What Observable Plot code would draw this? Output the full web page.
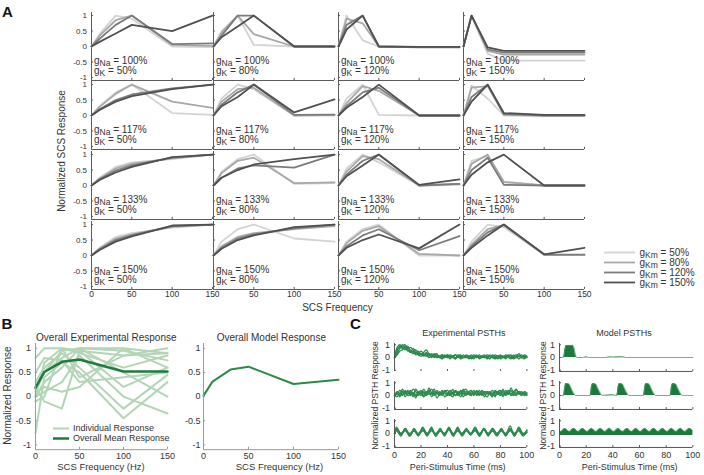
<!DOCTYPE html>
<html><head><meta charset="utf-8">
<script src="https://cdn.jsdelivr.net/npm/d3@7"></script>
<script src="https://cdn.jsdelivr.net/npm/@observablehq/plot@0.6"></script>
<style>
body{margin:0;background:#fff;}
#fig{position:relative;width:704px;height:475px;overflow:hidden;background:#fff;font-family:Arial,"Liberation Sans",Helvetica,sans-serif;color:#333;}
#fig svg{position:absolute;overflow:visible;background:transparent;}
.lbl{position:absolute;font-weight:bold;font-size:15px;line-height:15px;color:#111;}
</style></head>
<body><div id="fig">
<div class="lbl" style="left:2px;top:4px">A</div>
<div class="lbl" style="left:1.5px;top:315.5px">B</div>
<div class="lbl" style="left:350px;top:315.5px">C</div>
</div>
<script>
// ---------------- DATA ----------------
// Panel A: SCS frequencies and normalized responses (4 gKm levels per cell)
const freqA = [0, 10, 30, 50, 100, 150];
const gkmLevels = ["50%", "80%", "120%", "150%"];
const gNaPct = ["100%", "117%", "133%", "150%"];
const gKPct = ["50%", "80%", "120%", "150%"];
const yTicksA = [-1, -0.5, 0, 0.5, 1];
const xTicksA = [0, 50, 100, 150];

const na100k50 = [[0,0.4,1.0,0.9,0.0,-0.02],[0,0.35,0.85,1.0,0.05,0.02],[0,0.25,0.7,1.0,0.08,0.1],[0,0.15,0.42,0.7,0.5,1.0]];
const na100k80 = [[0,0.5,1.0,0.05,0,0],[0,0.45,1.0,0.4,0,0],[0,0.35,1.0,1.0,0,0],[0,0.3,0.65,1.0,0,0]];
const na100k120 = [[0,1.0,0.2,0,-0.03,-0.03],[0,0.9,0.75,0,-0.03,-0.03],[0,0.7,1.0,0,-0.02,-0.02],[0,0.55,1.0,0,-0.01,-0.01]];
const na100k150 = [[0,1,-0.23,-0.46,-0.46,-0.46],[0,1,-0.14,-0.26,-0.26,-0.26],[0,1,-0.09,-0.2,-0.2,-0.2],[0,1,-0.03,-0.14,-0.14,-0.14]];
const na117k50 = [[0,0.3,0.75,1.0,0.08,0.02],[0,0.28,0.7,1.0,0.45,0.25],[0,0.2,0.5,0.68,0.88,1.0],[0,0.18,0.45,0.63,0.85,1.0]];
const na117k80 = [[0,0.55,1.0,0.85,0,0],[0,0.45,0.85,0.9,0,0.02],[0,0.35,0.75,1.0,0.02,0.03],[0,0.3,0.6,1.0,0.1,0.52]];
const na117k120 = [[0,0.55,1.0,0.02,0,0],[0,0.4,0.95,0.8,0,0],[0,0.3,0.75,0.9,0,0],[0,0.25,0.6,1.0,0,0]];
const na117k150 = [[0,0.97,0.55,0.0,-0.02,-0.02],[0,0.9,0.95,0.02,0,0],[0,0.6,1.0,0.05,0,0],[0,0.45,1.0,0.08,0.02,0.02]];
const na133k50 = [[0,0.25,0.6,0.75,0.85,1.0],[0,0.22,0.55,0.7,0.88,1.0],[0,0.2,0.48,0.65,0.9,1.0],[0,0.18,0.42,0.6,0.92,1.0]];
const na133k80 = [[0,0.45,0.85,1.0,0.05,0.08],[0,0.4,0.8,0.9,0.08,0.1],[0,0.25,0.55,0.65,0.58,1.0],[0,0.25,0.5,0.68,0.85,1.0]];
const na133k120 = [[0,0.55,1.0,0.75,0,0.02],[0,0.45,0.95,0.85,0,0.05],[0,0.35,0.8,1.0,0,0.05],[0,0.3,0.65,1.0,0.02,0.2]];
const na133k150 = [[0,0.8,0.95,0.1,0,0],[0,0.7,1.0,0.12,0,0],[0,0.5,0.9,0.02,0,0],[0,0.35,0.75,1.0,0,0]];
const na150k50 = [[0,0.25,0.6,0.72,0.9,1.0],[0,0.22,0.55,0.68,0.93,1.0],[0,0.2,0.5,0.65,0.95,1.0],[0,0.18,0.45,0.62,0.97,1.0]];
const na150k80 = [[0,0.45,0.85,1.0,0.55,0.45],[0,0.3,0.6,0.72,0.85,0.95],[0,0.25,0.55,0.68,0.88,1.0],[0,0.22,0.5,0.65,0.92,1.0]];
const na150k120 = [[0,0.45,0.85,1.0,0.0,0.0],[0,0.4,0.8,0.95,0.05,0.0],[0,0.3,0.65,0.85,0.17,0.63],[0,0.25,0.5,0.68,0.23,1.0]];
const na150k150 = [[0,0.45,1.0,0.92,0.02,0.02],[0,0.35,0.85,0.98,0.02,0.02],[0,0.3,0.75,1.0,0.03,0.03],[0,0.25,0.65,1.0,0.04,0.25]];

// Panel B
const freqB = [0, 10, 30, 50, 100, 150];
const yTicksB = [-1, -0.5, 0, 0.5, 1];
const xTicksB = [0, 50, 100, 150];
const expIndividual = [
  [0.8,1.0,1.0,0.95,0.85,0.9],
  [0.1,0.5,0.95,1.0,1.0,0.9],
  [0.0,0.3,0.6,1.0,0.95,0.75],
  [-0.1,0.0,1.0,0.9,0.6,0.85],
  [0.2,-0.1,-0.25,0.95,0.2,0.6],
  [-0.75,0.4,0.7,0.5,-0.45,0.3],
  [0.0,0.1,0.3,0.85,0.0,-0.35],
  [0.5,0.8,0.75,0.3,0.4,0.5],
  [0.3,0.6,0.9,0.6,-0.25,0.45],
  [0.05,0.2,0.1,0.2,1.0,0.6],
  [0.2,0.5,0.8,1.0,0.5,0.0],
  [0.0,0.7,1.0,0.4,0.85,1.0]
];
const expMean = [0.18, 0.51, 0.72, 0.77, 0.52, 0.52];
const modelMean = [0.02, 0.31, 0.56, 0.62, 0.26, 0.35];
const legendB = ["Individual Response", "Overall Mean Response"];

// Panel C
const xTicksC = [0, 20, 40, 60, 80, 100];
const yTicksC = [-1, 0, 1];
const psthT = [0,2,4,6,8,10,12,14,16,18,20,22,24,26,28,30,32,34,36,38,40,42,44,46,48,50,52,54,56,58,60,62,64,66,68,70,72,74,76,78,80,82,84,86,88,90,92,94,96,98,100];
const psthT3 = [0,1.5,4.8,8.1,11.4,14.7,18,21.3,24.6,27.9,31.2,34.5,37.8,41.1,44.4,47.7,51,54.3,57.6,60.9,64.2,67.5,70.8,74.1,77.4,80.7,84,87.3,90.6,93.9,97.2,100];
const expRow1 = [
  [0,0.5,0.9,0.7,0.8,0.5,0.6,0.3,0.4,0.2, 0.3,0.1,0.4,0.2,0.1,0.2,0,0.1,0.2,0, 0.1,-0.1,0.1,0.2,0,0.1,0,0.2,0.1,-0.1, 0.1,0,0.2,0,0.1,-0.1,0.1,0,0.2,0.1, 0,0.1,-0.1,0.1,0.2,0,0.1,0.3,0,0.1, 0],
  [0,0.8,1.0,0.8,0.6,0.9,0.4,0.5,0.2,0.3, 0.5,0.3,0.2,0,0.1,0.3,0.1,0,-0.1,0.1, 0.2,0,0.1,-0.1,0.1,0,0.2,0,0.1,0, -0.1,0.1,0,0.1,0.2,0,-0.1,0.1,0,0.1, 0.2,0,0.1,0,-0.1,0.1,0.2,0.1,0,0.2, 0.1],
  [0,0.3,0.7,0.9,1.0,0.7,0.8,0.6,0.3,0.5, 0.2,0.4,0.6,0.3,0.2,0,0.2,0.1,0,0.2, 0,0.1,0,0.2,0.1,-0.1,0,0.1,0,0.2, 0,0.1,-0.1,0,0.1,0,0.2,0,-0.1,0, 0.1,0,0.2,0.1,0,-0.1,0,0.1,0.2,0, 0],
  [0,0.6,0.8,1.0,0.7,0.6,0.4,0.7,0.5,0.2, 0.1,0.2,0.3,0.1,0.3,0.1,0,0.1,0.2,0.1, 0,0.2,0.1,0,0.1,0.2,0,0,0.1,0.1, 0.2,0,0.1,0.1,0,0.2,0.1,0,0.1,-0.1, 0.1,0.1,0,0.2,0.1,0,0.1,-0.1,0.1,0.1, 0],
  [0,0.2,0.5,0.6,0.9,0.8,0.5,0.3,0.6,0.4, 0.3,0.2,0.1,0.3,0,0.2,0.3,0,0.1,0, 0.2,0.1,0,-0.1,0.2,0.1,0,0.1,-0.1,0, 0.1,0.2,0,0.1,0,0.1,-0.1,0.2,0,0.1, -0.1,0,0.1,0.1,0,0.2,0,0.1,0,-0.1, 0.1]
];
const expRow2 = [
  [0,0.2,-0.1,0.3,0.1,0.4,0,0.2,-0.2,0.3, 0.1,0.5,0.2,0.4,-0.1,0.2,0.1,0.3,0,0.4, 0.2,0.1,0.5,0,0.2,0.3,-0.1,0.2,0.1,0.3, 0,0.4,0.1,0.2,-0.1,0.3,0.2,0,0.3,0.1, 0.2,-0.1,0.4,0.1,0.6,0.2,0,0.3,0.1,0.2, 0],
  [0,-0.1,0.2,0,0.4,0.1,0.3,-0.1,0.5,0.2, 0,0.3,0.1,0.6,0.2,0,0.4,0.1,0.3,-0.1, 0.1,0.4,0.2,0,0.3,0.1,0.5,0,0.2,0.1, 0.4,0,0.2,0.3,0.1,-0.1,0.2,0.4,0,0.3, 0.1,0.5,0,0.2,0.1,0.3,0.5,0.1,0.2,0, 0.1],
  [0,0.3,0.1,0.5,-0.1,0.2,0.4,0.1,0,0.2, 0.4,0,0.3,0.1,0.2,0.5,-0.2,0.1,0.4,0.2, 0,0.3,0.1,0.4,0.2,-0.1,0.3,0.5,0.1,0, 0.2,0.1,0.4,0,0.3,0.2,0.1,-0.1,0.4,0.2, 0,0.3,0.2,0.1,0.4,0,0.2,0.3,0.1,0.3, 0.2],
  [0,0.1,0.4,0.2,0.3,0,0.1,0.5,0.3,0.1, 0.2,-0.1,0.1,0.3,0.5,0.1,0.2,0,0.2,0.3, 0.4,0.1,-0.1,0.3,0.1,0.4,0.2,0.1,0.3,0.4, 0.1,0.2,0,0.4,0.2,0.3,0.1,0.2,-0.1,0.3, 0.4,0.2,0.1,0.3,0,0.1,0.4,0.2,0,0.2, 0.1],
  [0,0.2,0,0.1,0.2,0.3,0.1,0.2,0.1,0, 0.3,0.2,0,0.2,0.1,0.3,0.2,0.2,0.1,0.2, 0.1,0,0.2,0.3,0,0.2,0.1,0.3,0.2,0.1, 0.2,0.3,0.1,0.1,0.3,0.1,0.3,0.1,0.2,0.1, 0.3,0,0.2,0.4,0.1,0.3,0.1,0.2,0.3,0.1, 0.2]
];
const expRow3 = [
  [0,0.4,-0.1,0.3,-0.2,0.4,-0.1,0.3,-0.2,0.4, -0.1,0.3,-0.1,0.5,-0.2,0.3,0,0.4,-0.1,0.3, -0.2,0.4,-0.1,0.3,-0.1,0.4,-0.2,0.3,-0.1,0.4, -0.1,0.2],
  [0,0.3,-0.2,0.4,-0.1,0.3,-0.2,0.5,0,0.3, -0.2,0.4,-0.1,0.3,-0.2,0.4,-0.1,0.3,0,0.5, -0.1,0.3,-0.2,0.4,0,0.3,-0.1,0.6,-0.2,0.3, -0.1,0.1],
  [0,0.5,0,0.2,-0.1,0.3,0,0.4,-0.1,0.2, 0,0.3,-0.2,0.4,0,0.2,-0.1,0.3,-0.1,0.4, 0,0.3,-0.1,0.2,-0.2,0.3,0,0.4,0,0.2, -0.2,0.3],
  [0,0.2,-0.1,0.4,-0.2,0.2,-0.1,0.3,-0.1,0.5, -0.2,0.2,0,0.3,-0.1,0.5,-0.2,0.2,-0.1,0.3, -0.2,0.3,0,0.4,-0.1,0.2,-0.1,0.3,-0.2,0.5, 0,0.2],
  [0,0.3,0,0.3,0,0.2,-0.1,0.2,0,0.3, -0.1,0.2,0,0.4,-0.1,0.2,0,0.3,0,0.2, -0.1,0.4,0,0.2,0,0.3,-0.1,0.2,0,0.3, -0.1,0.1]
];
const modelT1 = [0,3,4,5,10,11,12,13,18,20,22,35,38,41,44,47,50,100];
const modelV1 = [0,0,0.6,0.95,0.95,0.7,0.2,0,0,0.03,0,0,0.04,0.02,0.03,0.04,0,0];
const modelT2 = [0,3,4,5,7,9,11,12, 23,24,25,27,29,31,32, 38,40,43,44,45,47,49,51,52, 63,64,65,67,69,71,72, 83,84,85,87,89,91,92, 100];
const modelV2 = [0,0,0.7,0.95,0.9,0.5,0.1,0, 0,0.7,0.95,0.9,0.5,0.1,0, 0.03,0.03,0,0.7,0.95,0.9,0.5,0.1,0, 0,0.7,0.95,0.9,0.5,0.1,0, 0,0.7,0.95,0.9,0.5,0.1,0, 0];
const modelT3 = [0,1,4,7.3,10.7,14,17.3,20.7,24,27.3,30.7,34,37.3,40.7,44,47.3,50.7,54,57.3,60.7,64,67.3,70.7,74,77.3,80.7,84,87.3,90.7,94,97.3,100];
const modelV3 = [0.2,0.15,0.4,0.15,0.4,0.15,0.4,0.15,0.4,0.15,0.4,0.15,0.4,0.15,0.4,0.15,0.4,0.15,0.4,0.15,0.4,0.15,0.4,0.15,0.4,0.15,0.4,0.15,0.4,0.15,0.4,0.2];
const modelFloor = [0, 0, -0.15];

// ---------------- STYLE / HELPERS ----------------
const FONT = 'Arial, "Liberation Sans", Helvetica, sans-serif';
const TXT = "#333";
const gkmColors = ["#d3d3d3", "#a8a8a8", "#7c7c7c", "#505050"];
const fig = document.getElementById("fig");
const NS = "http://www.w3.org/2000/svg";

function subscriptify(svg) {
  svg.querySelectorAll("text").forEach(t => {
    const m = /^g(Na|Km|K)( = .*)$/.exec(t.textContent);
    if (!m) return;
    while (t.firstChild) t.removeChild(t.firstChild);
    const a = document.createElementNS(NS, "tspan"); a.textContent = "g";
    const b = document.createElementNS(NS, "tspan"); b.textContent = m[1];
    b.setAttribute("dy", "2"); b.setAttribute("font-size", "8.5");
    const c = document.createElementNS(NS, "tspan"); c.textContent = m[2];
    c.setAttribute("dy", "-2");
    t.append(a, b, c);
  });
}
function place(svg, left, top) {
  svg.style.left = left + "px";
  svg.style.top = top + "px";
  fig.appendChild(svg);
  subscriptify(svg);
}
const baseStyle = {fontFamily: FONT, overflow: "visible", background: "transparent"};
function label(str, opts) {
  return Plot.text([str], {text: d => d, textAnchor: "middle", lineAnchor: "middle", fill: TXT, ...opts});
}

// ---------------- PANEL A ----------------
const gridA = [
  [na100k50, na100k80, na100k120, na100k150],
  [na117k50, na117k80, na117k120, na117k150],
  [na133k50, na133k80, na133k120, na133k150],
  [na150k50, na150k80, na150k120, na150k150]
];
const colLeft = [90.7, 213.3, 337.7, 462.7];
const rowTop = [11.7, 81.4, 151.1, 220.8];
const WA = 121, HA = 68;
const axA = "#5c5c5c";

gridA.forEach((row, r) => row.forEach((series, c) => {
  const data = series.flatMap((vals, k) => vals.map((v, i) => ({f: freqA[i], v, k: gkmLevels[k]})));
  const marks = [
    Plot.ruleX([0], {y1: -1.1, y2: 1.1, stroke: axA}),
    Plot.ruleY([-1.1], {x1: 0, x2: 150, stroke: axA}),
    Plot.ruleY(yTicksA, {x1: 0, x2: 2.5, stroke: axA}),
    Plot.ruleX(xTicksA, {y1: -1.1, y2: -1.03, stroke: axA}),
    Plot.line(data, {x: "f", y: "v", z: "k", stroke: "k", strokeWidth: 1.8}),
    Plot.text([`gNa = ${gNaPct[r]}`], {x: 0, y: 0, text: d => d, dx: 2.5, dy: 17.5, textAnchor: "start", lineAnchor: "bottom", fontSize: 10, fill: TXT}),
    Plot.text([`gK = ${gKPct[c]}`], {x: 0, y: 0, text: d => d, dx: 2.5, dy: 27.5, textAnchor: "start", lineAnchor: "bottom", fontSize: 10, fill: TXT})
  ];
  if (c === 0) marks.push(Plot.text(yTicksA, {x: 0, y: d => d, text: d => String(d), dx: -4.5, textAnchor: "end", fontSize: 8, fill: TXT}));
  if (r === 3) marks.push(Plot.text(c === 0 ? xTicksA : xTicksA.slice(1), {x: d => d, y: -1.1, text: d => String(d), dy: 1.5, lineAnchor: "top", fontSize: 8.5, fill: TXT}));
  const svg = Plot.plot({
    width: WA, height: HA, margin: 0,
    x: {domain: [0, 150], axis: null},
    y: {domain: [-1.1, 1.1], axis: null},
    color: {domain: gkmLevels, range: gkmColors},
    style: baseStyle, marks
  });
  place(svg, colLeft[c], rowTop[r]);
}));

// Panel A axis titles
place(Plot.plot({
  width: 493, height: 277, margin: 0, style: baseStyle,
  marks: [
    label("Normalized SCS Response", {frameAnchor: "left", rotate: -90, dx: -29.5, fontSize: 10}),
    label("SCS Frequency", {frameAnchor: "bottom", dy: 18, dx: -0.5, fontSize: 10})
  ]
}), 90.7, 11.7);

// Panel A legend
place(Plot.plot({
  width: 31, height: 32.7, margin: 0, style: baseStyle,
  x: {domain: [0, 1], axis: null},
  y: {type: "point", domain: gkmLevels, padding: 0, axis: null},
  color: {domain: gkmLevels, range: gkmColors},
  marks: [
    Plot.ruleY(gkmLevels, {y: d => d, x1: 0, x2: 1, stroke: d => d, strokeWidth: 1.8}),
    Plot.text(gkmLevels, {y: d => d, x: 1, text: d => `gKm = ${d}`, dx: 4, textAnchor: "start", fontSize: 10, fill: TXT})
  ]
}), 604, 251);

// ---------------- PANEL B ----------------
const axB = "#9a9a9a";
const lightGreen = "#b3d5b6", darkGreen = "#1f7b3d", modelLine = "#2a8a47";
function frameB(xLabelDx, tickDx) {
  return [
    Plot.ruleX([0], {y1: -1.1, y2: 1.1, stroke: axB}),
    Plot.ruleY([-1.1], {x1: 0, x2: 150, stroke: axB}),
    Plot.ruleY(yTicksB, {x1: 0, x2: 2.5, stroke: axB}),
    Plot.ruleX(xTicksB, {y1: -1.1, y2: -1.05, stroke: axB}),
    Plot.text(yTicksB, {x: 0, y: d => d, text: d => String(d), dx: tickDx, textAnchor: "end", fontSize: 9, fill: TXT}),
    Plot.text(xTicksB, {x: d => d, y: -1.1, text: d => String(d), dy: 3, lineAnchor: "top", fontSize: 9, fill: TXT}),
    label("SCS Frequency (Hz)", {frameAnchor: "bottom", dy: 17.2, dx: xLabelDx, fontSize: 9.5})
  ];
}
const indivData = expIndividual.flatMap((arr, j) => arr.map((v, i) => ({f: freqB[i], v, j})));
place(Plot.plot({
  width: 132, height: 106.2, margin: 0, style: baseStyle,
  x: {domain: [0, 150], axis: null}, y: {domain: [-1.1, 1.1], axis: null},
  marks: [
    Plot.line(indivData, {x: "f", y: "v", z: "j", stroke: lightGreen, strokeWidth: 2}),
    Plot.line(expMean.map((v, i) => ({f: freqB[i], v})), {x: "f", y: "v", stroke: darkGreen, strokeWidth: 2.5}),
    ...frameB(-0.5, -4.5),
    label("Overall Experimental Response", {frameAnchor: "top", dy: -6.2, dx: 4.8, fontSize: 10}),
    label("Normalized Response", {frameAnchor: "left", rotate: -90, dx: -27.5, dy: -1, fontSize: 10})
  ]
}), 35, 342.9);

place(Plot.plot({
  width: 16, height: 10, margin: 0, style: baseStyle,
  x: {domain: [0, 1], axis: null},
  y: {type: "point", domain: legendB, padding: 0, axis: null},
  marks: [
    Plot.ruleY([legendB[0]], {y: d => d, x1: 0, x2: 1, stroke: lightGreen, strokeWidth: 2}),
    Plot.ruleY([legendB[1]], {y: d => d, x1: 0, x2: 1, stroke: darkGreen, strokeWidth: 2.5}),
    Plot.text(legendB, {y: d => d, x: 1, text: d => d, dx: 3.4, textAnchor: "start", fontSize: 9, fill: TXT})
  ]
}), 53.3, 427.7);

place(Plot.plot({
  width: 135, height: 106.2, margin: 0, style: baseStyle,
  x: {domain: [0, 150], axis: null}, y: {domain: [-1.1, 1.1], axis: null},
  marks: [
    Plot.line(modelMean.map((v, i) => ({f: freqB[i], v})), {x: "f", y: "v", stroke: modelLine, strokeWidth: 2}),
    ...frameB(8.5, -3),
    label("Overall Model Response", {frameAnchor: "top", dy: -6.2, dx: 0.3, fontSize: 10})
  ]
}), 203, 342.9);

// ---------------- PANEL C ----------------
const axC = "#555";
const expGreen = "#2b8a4c", modelFill = "#1b7a3b", modelEdge = "#4aa165";
const rowTopC = [342.6, 381, 419.3];
const HC = 28;
function frameC(r, bottomLine) {
  const m = [
    Plot.ruleX([0], {y1: -1.1, y2: 1.1, stroke: axC}),
    Plot.ruleX(xTicksC, {y1: -1.1, y2: -0.95, stroke: axC}),
    Plot.ruleY(yTicksC, {x1: 0, x2: 1.5, stroke: axC}),
    Plot.text(yTicksC, {x: 0, y: d => d, text: d => String(d), dx: -4.5, textAnchor: "end", fontSize: 9, fill: TXT})
  ];
  if (bottomLine) m.push(Plot.ruleY([-1.1], {x1: 0, x2: 100, stroke: axC}));
  if (r === 2) m.push(Plot.text(xTicksC, {x: d => d, y: -1.1, text: d => String(d), dy: 4, lineAnchor: "top", fontSize: 9, fill: TXT}));
  return m;
}
[expRow1, expRow2, expRow3].forEach((traces, r) => {
  const T = r === 2 ? psthT3 : psthT;
  const data = traces.flatMap((tr, j) => tr.slice(0, T.length).map((v, i) => ({t: T[i], v, j})));
  const marks = [
    Plot.line(data, {x: "t", y: "v", z: "j", stroke: expGreen, strokeWidth: 1.3, curve: "catmull-rom"}),
    ...frameC(r, r > 0)
  ];
  if (r === 0) marks.push(label("Experimental PSTHs", {frameAnchor: "top", dy: -9.9, dx: 3.2, fontSize: 9}));
  if (r === 1) marks.push(label("Normalized PSTH Response", {frameAnchor: "left", rotate: -90, dx: -19.3, fontSize: 8.5}));
  if (r === 2) marks.push(label("Peri-Stimulus Time (ms)", {frameAnchor: "bottom", dy: 19.8, dx: -3, fontSize: 9}));
  place(Plot.plot({
    width: 132.4, height: HC, margin: 0, style: baseStyle,
    x: {domain: [0, 100], axis: null}, y: {domain: [-1.1, 1.1], axis: null}, marks
  }), 394.3, rowTopC[r]);
});

[[modelT1, modelV1], [modelT2, modelV2], [modelT3, modelV3]].forEach(([T, V], r) => {
  const data = T.map((t, i) => ({t, v: V[i]}));
  const marks = [
    Plot.areaY(data, {x: "t", y1: modelFloor[r], y2: "v", fill: modelFill, curve: "monotone-x"}),
    Plot.line(data, {x: "t", y: "v", stroke: modelEdge, strokeWidth: 0.8, curve: "monotone-x"}),
    ...frameC(r, true)
  ];
  if (r === 0) marks.push(label("Model PSTHs", {frameAnchor: "top", dy: -9.9, dx: -2.2, fontSize: 9}));
  if (r === 1) marks.push(label("Normalized PSTH Response", {frameAnchor: "left", rotate: -90, dx: -16, fontSize: 8.5}));
  if (r === 2) marks.push(label("Peri-Stimulus Time (ms)", {frameAnchor: "bottom", dy: 19.8, dx: 3.5, fontSize: 9}));
  place(Plot.plot({
    width: 133.4, height: HC, margin: 0, style: baseStyle,
    x: {domain: [0, 100], axis: null}, y: {domain: [-1.1, 1.1], axis: null}, marks
  }), 559.3, rowTopC[r]);
});
</script>
</body></html>
